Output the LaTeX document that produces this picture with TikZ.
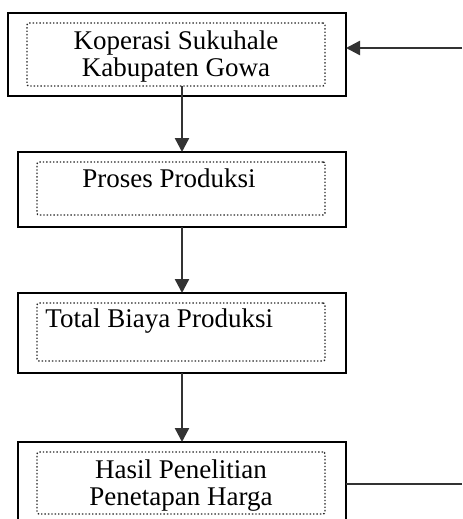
\documentclass[tikz,border=0pt]{standalone}
\usepackage{fontspec}
\setmainfont{Liberation Serif}
\usetikzlibrary{arrows.meta}

\begin{document}
\begin{tikzpicture}[x=0.5pt, y=-0.5pt,
    luar/.style={draw, line width=1.2pt, inner sep=0pt, outer sep=0pt},
    isi/.style={draw=black!85, densely dotted, line width=0.7pt, rounded corners=1pt, inner sep=0pt, outer sep=0pt},
    teks/.style={inner sep=0pt, font=\fontsize{13.5pt}{13.5pt}\selectfont},
    panah/.style={-{Triangle[width=7pt,length=7pt]}, line width=1.2pt, draw=black!80}]
  \useasboundingbox (0, 0) rectangle (462, 519);
  \node [luar, minimum width=169pt, minimum height=41.5pt] (koperasi) at (177, 54.5) {};
  \node [isi, minimum width=149pt, minimum height=31.5pt] (koperasiIsi) at (176, 54.5) {};
  \node [teks, align=center] (koperasiTeks) at (176, 56.5) {Koperasi Sukuhale\\Kabupaten Gowa};
  \node [luar, minimum width=164pt, minimum height=37.5pt] (proses) at (182, 189.5) {};
  \node [isi, minimum width=144pt, minimum height=26.5pt] (prosesIsi) at (181, 188.5) {};
  \node [teks] (prosesTeks) at (169, 178) {Proses Produksi};
  \node [luar, minimum width=164pt, minimum height=40pt] (biaya) at (182, 333) {};
  \node [isi, minimum width=144pt, minimum height=29pt] (biayaIsi) at (181, 332) {};
  \node [teks, anchor=west] (biayaTeks) at (45, 321) {Total Biaya Produksi};
  \node [luar, minimum width=164pt, minimum height=45pt] (hasil) at (182, 487) {};
  \node [isi, minimum width=144pt, minimum height=31pt] (hasilIsi) at (181, 483) {};
  \node [teks, align=center] (hasilTeks) at (181, 486) {Hasil Penelitian\\Penetapan Harga};
  \coordinate (masuk) at (462, 48);
  \coordinate (keluar) at (462, 484);
  \draw [panah] (proses.north |- koperasiIsi.south) -- (proses.north);
  \draw [panah] (proses.south) -- (biaya.north);
  \draw [panah] (biaya.south) -- (hasil.north);
  \draw [panah] (masuk) -- (masuk -| koperasi.east);
  \draw [line width=1.2pt, black!80] (keluar -| hasil.east) -- (keluar);
\end{tikzpicture}
\end{document}
